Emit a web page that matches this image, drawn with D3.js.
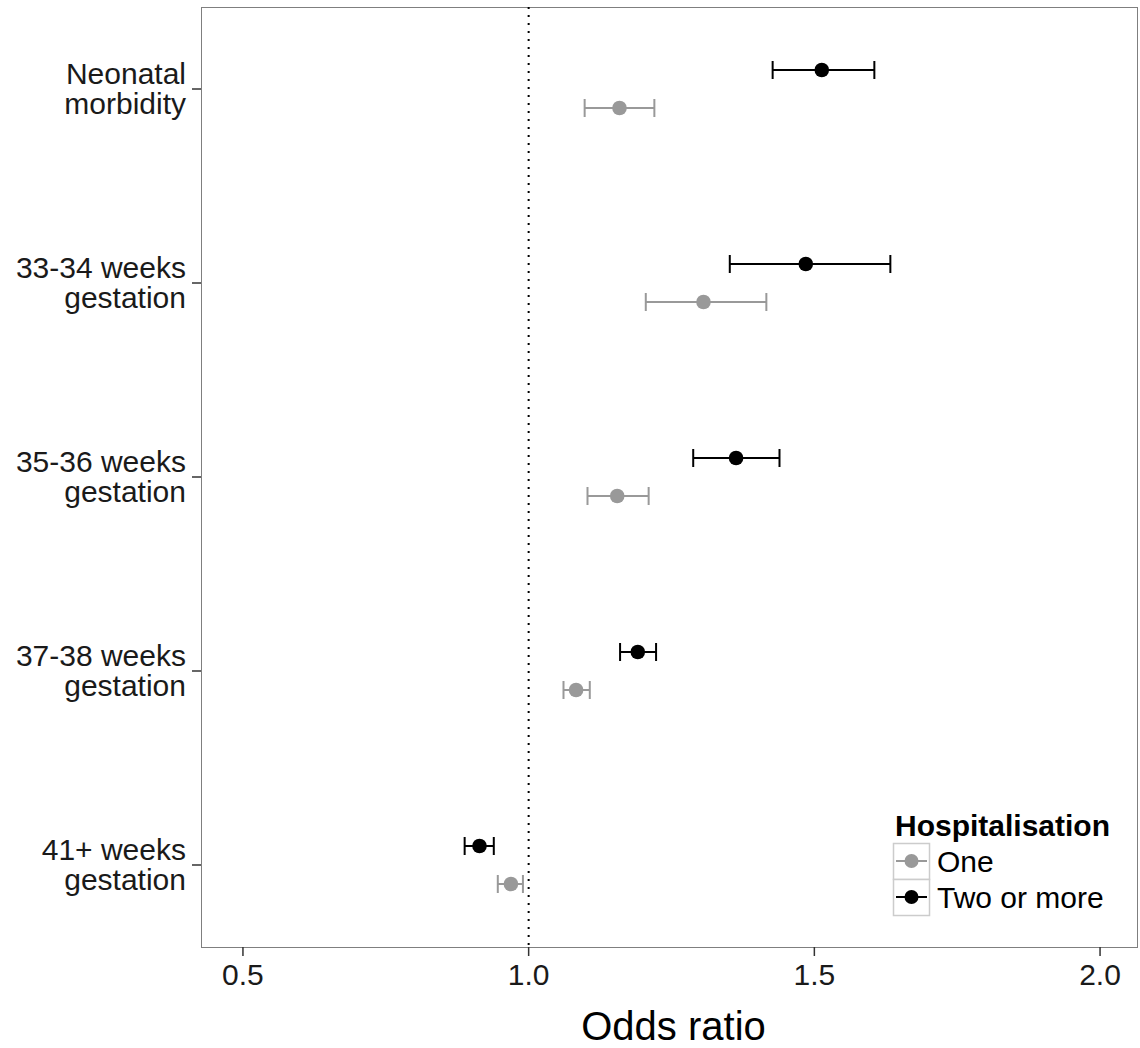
<!DOCTYPE html>
<html><head><meta charset="utf-8">
<script src="https://cdn.jsdelivr.net/npm/d3@7"></script>
<style>body{margin:0;background:#fff}svg{display:block}text{font-family:"Liberation Sans",Arial,sans-serif}</style>
</head><body>
<script>
const categories = ["Neonatal\nmorbidity","33-34 weeks\ngestation","35-36 weeks\ngestation","37-38 weeks\ngestation","41+ weeks\ngestation"];
const seriesNames = ["One","Two or more"];
const seriesColors = ["#999999","#000000"];
const oneOR   = [1.159, 1.306, 1.155, 1.083, 0.969];
const oneLow  = [1.098, 1.205, 1.103, 1.061, 0.946];
const oneHigh = [1.220, 1.416, 1.210, 1.107, 0.990];
const twoOR   = [1.513, 1.485, 1.363, 1.191, 0.914];
const twoLow  = [1.427, 1.352, 1.288, 1.160, 0.888];
const twoHigh = [1.605, 1.633, 1.439, 1.223, 0.939];
const xTicks = [0.5, 1.0, 1.5, 2.0];
const xTickLabels = ["0.5","1.0","1.5","2.0"];

const W = 1140, H = 1048;
const panel = {left:201, top:7, right:1138, bottom:947};
const svg = d3.select("body").append("svg").attr("width",W).attr("height",H);

const x = d3.scaleLinear().domain([0.4266, 2.0664]).range([panel.left, panel.right]);
const y = d3.scalePoint().domain(categories).range([panel.top, panel.bottom]).padding(0.4227);
const dodge = d3.scalePoint().domain(["Two or more","One"]).range([-19, 19]);
const color = d3.scaleOrdinal().domain(seriesNames).range(seriesColors);

const rows = [];
categories.forEach((c,i)=>{
  rows.push({cat:c, s:"One", v:oneOR[i], lo:oneLow[i], hi:oneHigh[i]});
  rows.push({cat:c, s:"Two or more", v:twoOR[i], lo:twoLow[i], hi:twoHigh[i]});
});

// panel border
svg.append("rect").attr("x",panel.left+0.5).attr("y",panel.top+0.5)
  .attr("width",panel.right-panel.left-1).attr("height",panel.bottom-panel.top)
  .attr("fill","none").attr("stroke","#7f7f7f").attr("stroke-width",1);

// reference line
svg.append("line").attr("x1",x(1)).attr("x2",x(1)).attr("y1",panel.top).attr("y2",panel.bottom)
  .attr("stroke","#000").attr("stroke-width",2).attr("stroke-dasharray","2,6");

// error bars
const g = svg.append("g");
const capH = 9;
rows.forEach(r=>{
  const yy = y(r.cat) + dodge(r.s);
  const col = color(r.s);
  g.append("line").attr("x1",x(r.lo)).attr("x2",x(r.hi)).attr("y1",yy).attr("y2",yy).attr("stroke",col).attr("stroke-width",2);
  g.append("line").attr("x1",x(r.lo)).attr("x2",x(r.lo)).attr("y1",yy-capH).attr("y2",yy+capH).attr("stroke",col).attr("stroke-width",2);
  g.append("line").attr("x1",x(r.hi)).attr("x2",x(r.hi)).attr("y1",yy-capH).attr("y2",yy+capH).attr("stroke",col).attr("stroke-width",2);
  g.append("circle").attr("cx",x(r.v)).attr("cy",yy).attr("r",7.3).attr("fill",col);
});

// x axis
const xAxis = svg.append("g").attr("transform",`translate(0,${panel.bottom})`);
xTicks.forEach((t,i)=>{
  xAxis.append("line").attr("x1",x(t)).attr("x2",x(t)).attr("y1",0).attr("y2",9).attr("stroke","#333").attr("stroke-width",1.5);
  xAxis.append("text").attr("x",x(t)).attr("y",38).attr("text-anchor","middle").attr("font-size",30).attr("fill","#1a1a1a").text(xTickLabels[i]);
});
svg.append("text").attr("x",(panel.left+panel.right)/2 + 4).attr("y",1040).attr("text-anchor","middle")
  .attr("font-size",40).attr("fill","#000").text("Odds ratio");

// y axis
const yAxis = svg.append("g");
categories.forEach(c=>{
  const yy = y(c);
  yAxis.append("line").attr("x1",panel.left-9).attr("x2",panel.left).attr("y1",yy).attr("y2",yy).attr("stroke","#333").attr("stroke-width",1.5);
  const lines = c.split("\n");
  const t = yAxis.append("text").attr("text-anchor","end").attr("font-size",30).attr("fill","#1a1a1a");
  lines.forEach((l,j)=>{
    t.append("tspan").attr("x",panel.left-15).attr("y",yy-5+j*30).text(l);
  });
});

// legend
const lg = svg.append("g").attr("transform","translate(893,0)");
lg.append("text").attr("x",2).attr("y",836).attr("font-size",30).attr("font-weight","bold").attr("fill","#000").text("Hospitalisation");
const keyOrder = ["One","Two or more"];
keyOrder.forEach((s,i)=>{
  const top = 843 + i*36;
  lg.append("rect").attr("x",0.5).attr("y",top+0.5).attr("width",36).attr("height",36).attr("fill","#fff").attr("stroke","#cccccc").attr("stroke-width",1.5);
  lg.append("line").attr("x1",3).attr("x2",34).attr("y1",top+18).attr("y2",top+18).attr("stroke",color(s)).attr("stroke-width",2);
  lg.append("circle").attr("cx",18.5).attr("cy",top+18).attr("r",7).attr("fill",color(s));
  lg.append("text").attr("x",44).attr("y",top+29).attr("font-size",30).attr("fill","#000").text(s);
});
</script>
</body></html>
